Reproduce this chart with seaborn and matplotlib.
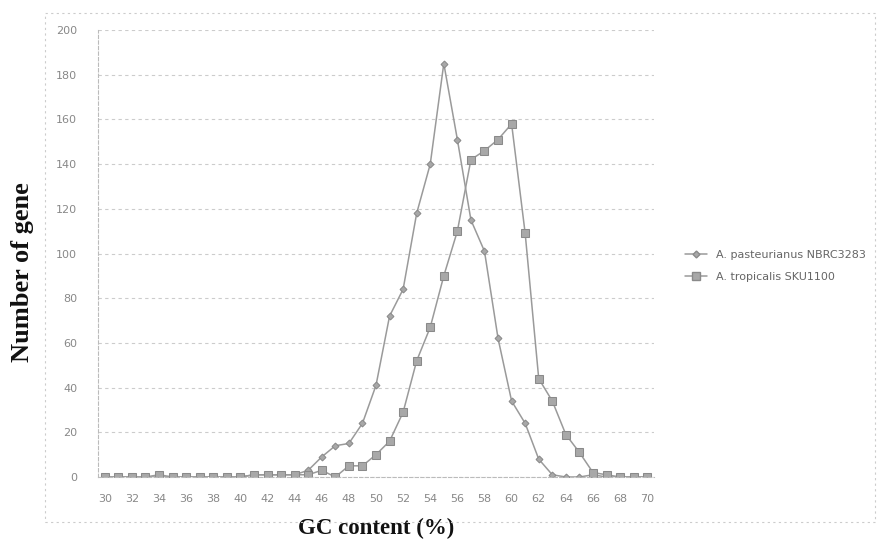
import numpy as np
import pandas as pd
import matplotlib
matplotlib.use("Agg")
import matplotlib.pyplot as plt
import seaborn as sns
from matplotlib.lines import Line2D
from matplotlib.patches import Rectangle

gc = list(range(30, 71))
pasteurianus = [0, 0, 0, 0, 0, 0, 0, 0, 0, 0, 0, 1, 1, 1, 1, 3, 9, 14, 15, 24,
                41, 72, 84, 118, 140, 185, 151, 115, 101, 62, 34, 24, 8, 1, 0, 0,
                1, 0, 0, 0, 0]
tropicalis = [0, 0, 0, 0, 1, 0, 0, 0, 0, 0, 0, 1, 1, 1, 1, 1, 3, 0, 5, 5,
              10, 16, 29, 52, 67, 90, 110, 142, 146, 151, 158, 109, 44, 34, 19, 11,
              2, 1, 0, 0, 0]
labels = ["A. pasteurianus NBRC3283", "A. tropicalis SKU1100"]
x_ticks = list(range(30, 71, 2))
y_ticks = list(range(0, 201, 20))

df = pd.DataFrame({
    "gc": gc * 2,
    "n": pasteurianus + tropicalis,
    "series": [labels[0]] * len(gc) + [labels[1]] * len(gc),
})

sns.set_style("white")
fig = plt.figure(figsize=(8.8, 5.39), dpi=100)
ax = fig.add_axes([98 / 880, 1 - 477 / 539, (654 - 98) / 880, (477 - 30) / 539])

line_col = "#9a9a9a"
sns.lineplot(data=df, x="gc", y="n", hue="series", style="series",
             palette=[line_col, line_col], markers={labels[0]: "D", labels[1]: "s"},
             dashes=False, ax=ax, linewidth=1.1, legend=False)
for ln, ms in zip(ax.lines, [3.5, 6]):
    ln.set_markersize(ms)
    ln.set_markerfacecolor("#a8a8a8")
    ln.set_markeredgecolor("#8a8a8a")

ax.set_xlim(29.5, 70.5)
ax.set_ylim(0, 200)
ax.set_xticks(x_ticks)
ax.set_yticks(y_ticks)
ax.tick_params(axis="both", labelsize=8, colors="#888888", length=3, direction="out")
ax.yaxis.grid(True, linestyle=(0, (3, 3)), color="#cccccc", linewidth=0.8)
ax.xaxis.grid(False)
for s in ["top", "right"]:
    ax.spines[s].set_visible(False)
ax.spines["left"].set_color("#bbbbbb")
ax.spines["left"].set_linestyle((0, (3, 2)))
ax.spines["bottom"].set_color("#bbbbbb")
ax.spines["bottom"].set_linestyle((0, (3, 2)))
ax.tick_params(axis="x", pad=9)
ax.tick_params(axis="y", pad=12)

ax.set_xlabel("GC content (%)", fontfamily="Liberation Serif", fontweight="bold",
              fontsize=16.5, color="#111111", labelpad=10)
ax.set_ylabel("Number of gene", fontfamily="Liberation Serif", fontweight="bold",
              fontsize=19, color="#111111")
ax.yaxis.set_label_coords(-(98 - 34) / 556, (477 - 272) / 447)

handles = [Line2D([], [], color=line_col, marker="D", markersize=3.5, lw=1.1,
                  markerfacecolor="#a8a8a8", markeredgecolor="#8a8a8a"),
           Line2D([], [], color=line_col, marker="s", markersize=6, lw=1.1,
                  markerfacecolor="#a8a8a8", markeredgecolor="#8a8a8a")]
leg = fig.legend(handles, labels, loc="upper left", bbox_to_anchor=(675 / 880, 1 - 240 / 539),
                 frameon=False, fontsize=8, handlelength=2.0, labelspacing=1.1)
for t in leg.get_texts():
    t.set_color("#666666")

# outer chart-area frame (dotted)
fig.patches.append(Rectangle((45 / 880, 1 - 522 / 539), (875 - 45) / 880, (522 - 13) / 539,
                             transform=fig.transFigure, fill=False, edgecolor="#cccccc",
                             linestyle=(0, (2, 3)), linewidth=0.8, zorder=0))

fig.savefig("out.png", dpi=100)
